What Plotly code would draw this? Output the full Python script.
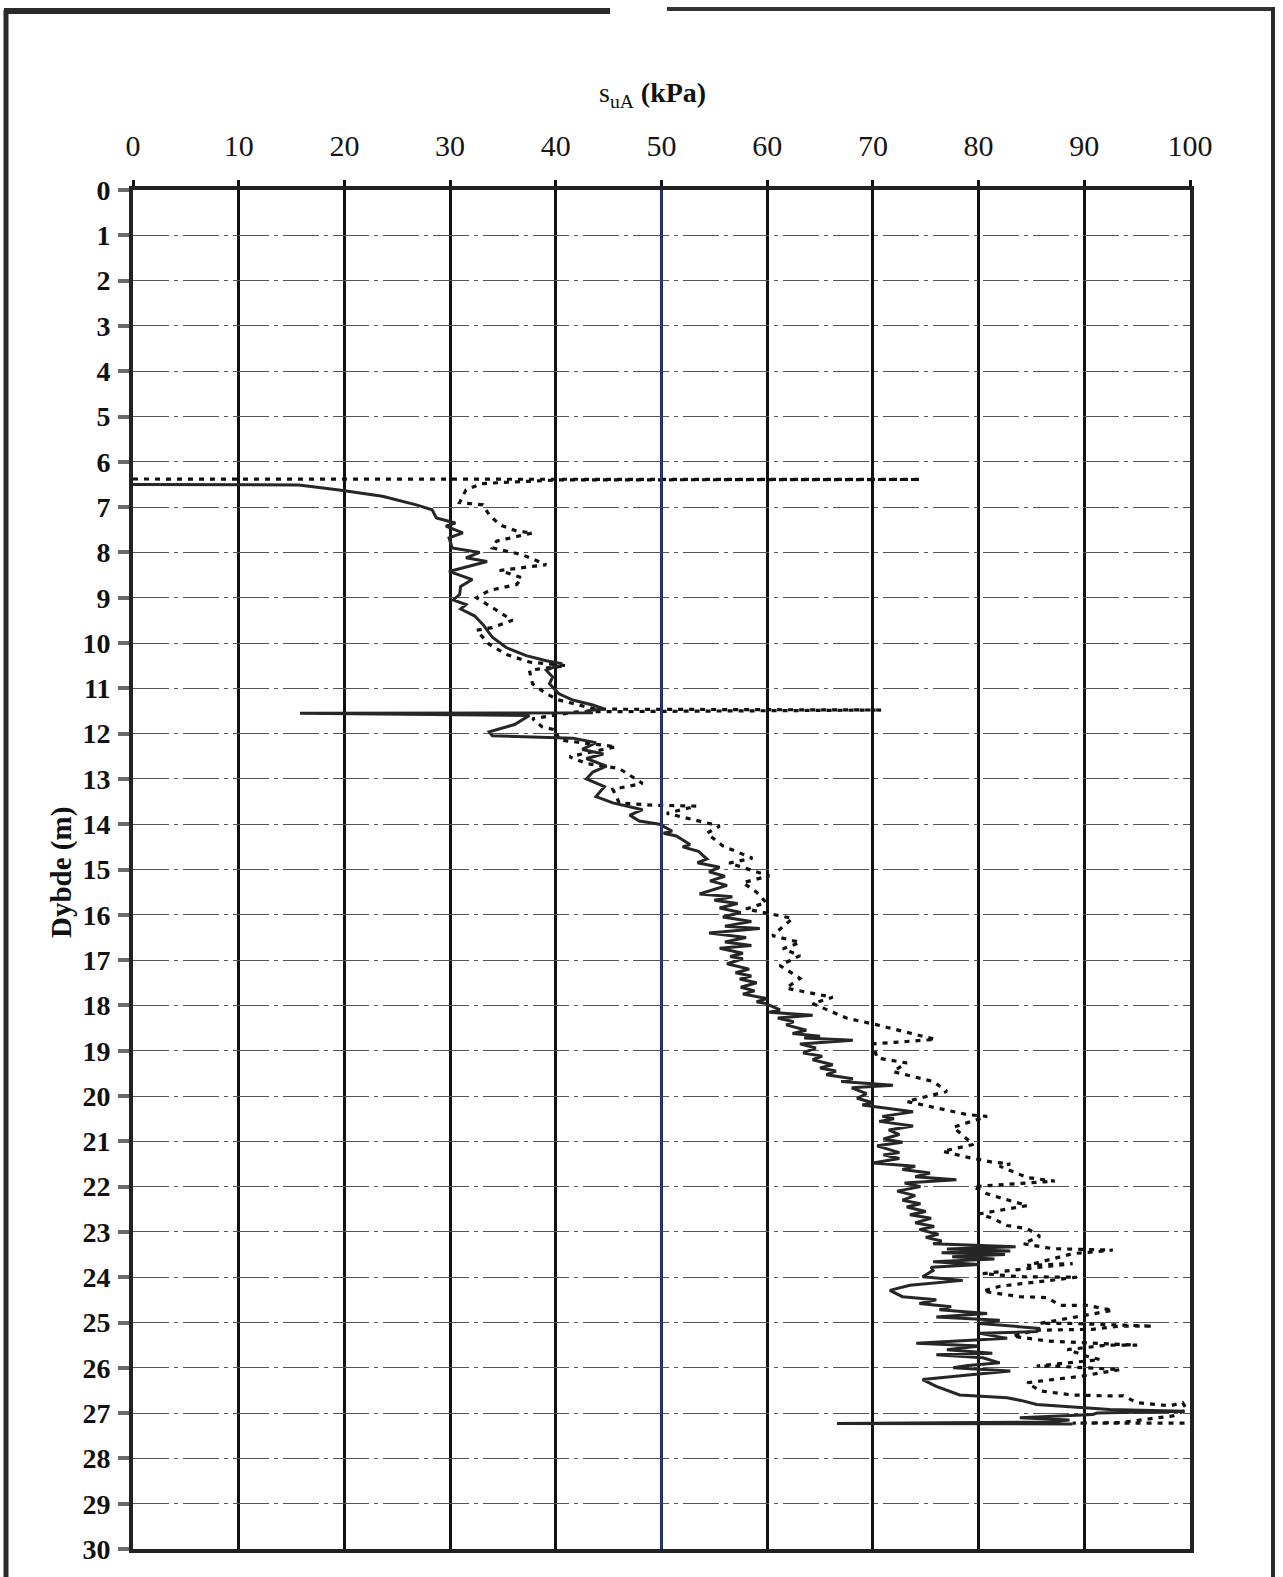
import plotly.graph_objects as go

# Undrained shear strength profile s_uA (kPa) versus depth (m)

# Solid profile: depth (m) and s_uA (kPa)
solid_depth = [
    6.50, 6.50, 6.51, 6.62, 6.76, 6.95, 7.06, 7.24, 7.35, 7.42, 7.57, 7.68, 7.90, 8.00,
    8.12, 8.20, 8.42, 8.60, 8.75, 8.93, 9.05, 9.15, 9.25, 9.40, 9.59, 9.75, 9.87, 10.10,
    10.28, 10.39, 10.46, 10.60, 10.75, 10.90, 11.12, 11.26, 11.37, 11.45, 11.50, 11.54,
    11.55, 11.60, 11.67, 11.80, 11.96, 12.05, 12.10, 12.20, 12.35, 12.45, 12.55, 12.72,
    12.85, 13.00, 13.17, 13.39, 13.53, 13.68, 13.80, 13.93, 14.00, 14.15, 14.20, 14.26,
    14.45, 14.50, 14.60, 14.77, 14.85, 14.95, 15.05, 15.15, 15.25, 15.35, 15.54, 15.60,
    15.68, 15.75, 15.85, 15.95, 16.05, 16.15, 16.25, 16.30, 16.40, 16.50, 16.60, 16.68,
    16.74, 16.85, 16.92, 16.97, 17.08, 17.20, 17.28, 17.35, 17.42, 17.50, 17.60, 17.68,
    17.75, 17.85, 17.92, 17.96, 18.10, 18.15, 18.22, 18.28, 18.36, 18.43, 18.55, 18.62,
    18.68, 18.72, 18.77, 18.85, 18.94, 19.05, 19.12, 19.20, 19.31, 19.38, 19.45, 19.53,
    19.62, 19.68, 19.76, 19.82, 19.95, 20.05, 20.15, 20.20, 20.35, 20.45, 20.50, 20.56,
    20.66, 20.75, 20.85, 20.95, 21.02, 21.10, 21.25, 21.30, 21.38, 21.48, 21.55, 21.62,
    21.70, 21.78, 21.85, 21.92, 22.00, 22.10, 22.20, 22.30, 22.38, 22.45, 22.55, 22.62,
    22.70, 22.80, 22.88, 22.95, 23.05, 23.12, 23.20, 23.26, 23.33, 23.38, 23.42, 23.46,
    23.50, 23.55, 23.60, 23.66, 23.72, 23.78, 23.85, 23.99, 24.07, 24.18, 24.29, 24.43,
    24.50, 24.58, 24.65, 24.72, 24.80, 24.88, 24.95, 25.02, 25.13, 25.20, 25.24, 25.35,
    25.46, 25.52, 25.60, 25.68, 25.71, 25.78, 25.89, 25.95, 26.00, 26.07, 26.15, 26.26,
    26.41, 26.50, 26.60, 26.66, 26.72, 26.81, 26.86, 26.92, 26.96, 27.00, 27.03, 27.10,
    27.15, 27.20, 27.23, 27.24,
]
solid_su = [
    0.0, 10.0, 15.7, 19.5, 23.6, 26.8, 28.3, 28.7, 30.5, 29.6, 31.2, 29.9, 30.2, 32.8,
    31.5, 33.5, 29.9, 32.1, 31.0, 30.9, 30.3, 31.5, 31.0, 32.3, 33.1, 33.6, 34.0, 35.3,
    37.2, 39.1, 40.6, 39.1, 39.7, 39.4, 40.3, 41.6, 43.5, 44.5, 42.9, 43.5,
    15.8, 37.5, 37.0, 36.1, 33.7, 34.0, 41.6, 43.8, 42.5, 44.5, 42.9, 44.8,
    43.5, 42.9, 44.6, 43.8, 45.4, 48.2, 47.0, 47.9, 49.8, 51.0, 50.2, 51.4,
    52.7, 52.0, 53.5, 54.3, 53.4, 55.5, 54.5, 56.0, 54.6, 56.2, 53.6, 56.7,
    55.0, 57.2, 55.5, 57.5, 55.8, 58.5, 56.0, 59.3, 54.5, 58.0, 56.0, 58.5,
    55.5, 57.7, 56.5, 57.7, 56.2, 58.3, 57.0, 58.5, 57.4, 59.0, 57.5, 58.8,
    57.7, 60.0, 59.0, 59.9, 61.2, 60.2, 64.3, 61.0, 62.5, 61.8, 63.7, 62.4,
    65.0, 63.5, 68.1, 63.1, 64.6, 63.4, 65.2, 64.3, 66.2, 65.0, 66.5, 65.6,
    68.1, 67.0, 71.9, 68.0, 69.4, 68.5, 70.0, 69.0, 73.8, 70.9, 72.0, 70.6,
    73.8, 71.5, 72.5, 71.0, 72.8, 70.4, 72.5, 71.0, 72.5, 70.0, 74.0, 72.8,
    75.4, 74.0, 77.9, 73.0, 74.5, 72.3, 74.0, 72.8, 74.5, 73.2, 75.0, 73.5,
    75.5, 74.0, 75.8, 74.4, 76.2, 75.0, 76.5, 75.7, 83.5, 77.0, 83.0, 76.5,
    82.5, 77.5, 81.5, 75.7, 80.1, 75.5, 75.7, 74.7, 78.5, 73.5, 71.6, 72.8,
    76.0, 74.4, 77.4, 76.3, 80.8, 76.0, 82.0, 80.1, 85.8, 85.5, 80.1, 82.7,
    74.1, 80.1, 77.0, 81.3, 76.0, 80.4, 82.0, 79.0, 77.6, 83.0, 79.5, 74.7,
    76.0, 77.0, 78.2, 82.7, 84.0, 85.5, 88.9, 92.4, 99.5, 91.2, 90.8, 83.9,
    88.6, 86.3, 66.6, 88.9,
]

# Dotted profile: depth (m) and s_uA (kPa)
dotted_depth = [
    6.38, 6.39, 6.40, 6.48, 6.62, 6.90, 6.95, 7.17, 7.39, 7.53, 7.57, 7.75, 7.90, 8.05,
    8.27, 8.40, 8.56, 8.71, 8.84, 9.00, 9.28, 9.50, 9.66, 9.72, 10.03, 10.25, 10.42,
    10.50, 10.60, 10.90, 11.12, 11.26, 11.37, 11.46, 11.48, 11.52, 11.67, 11.85, 11.92,
    12.14, 12.29, 12.51, 12.66, 12.77, 13.10, 13.23, 13.53, 13.58, 13.60, 13.76, 14.04,
    14.20, 14.48, 14.75, 14.86, 15.14, 15.29, 15.50, 15.73, 15.87, 16.08, 16.46, 16.61,
    16.75, 16.90, 17.12, 17.40, 17.62, 17.82, 17.96, 18.28, 18.43, 18.75, 18.85, 19.16,
    19.27, 19.46, 19.68, 19.90, 20.12, 20.41, 20.45, 20.69, 21.07, 21.22, 21.35, 21.46,
    21.50, 21.55, 21.80, 21.88, 22.00, 22.16, 22.30, 22.42, 22.60, 22.70, 22.86, 22.93,
    23.10, 23.26, 23.37, 23.40, 23.48, 23.74, 23.70, 23.92, 23.99, 24.00, 24.20, 24.31,
    24.43, 24.45, 24.62, 24.62, 24.73, 25.02, 25.02, 25.08, 25.08, 25.15, 25.17, 25.30,
    25.41, 25.50, 25.50, 25.60, 25.74, 25.82, 25.96, 25.96, 26.04, 26.19, 26.26, 26.33,
    26.51, 26.60, 26.62, 26.62, 26.77, 26.84, 26.77, 26.92, 27.06, 27.21, 27.22, 27.22,
]
dotted_su = [
    0.0, 74.5, 40.0, 33.0, 31.5, 30.9, 33.1, 33.7, 34.7, 36.3, 37.8, 34.4, 34.0, 36.8,
    39.1, 34.7, 36.8, 36.3, 33.7, 32.5, 34.4, 35.9, 34.0, 32.5, 33.7, 35.3, 37.5,
    41.0, 37.5, 37.8, 39.1, 40.3, 42.2, 43.8, 70.8, 42.0, 37.8, 38.7, 40.0,
    40.3, 45.7, 41.3, 42.9, 46.0, 48.2, 45.4, 46.0, 49.1, 53.3, 50.5, 55.5,
    54.3, 55.8, 58.6, 56.4, 60.2, 57.7, 59.0, 59.9, 58.0, 62.4, 60.5, 63.1,
    61.5, 63.1, 61.2, 63.1, 61.8, 66.2, 64.3, 67.5, 70.4, 75.9, 70.0, 70.4,
    73.2, 71.9, 75.7, 77.0, 73.2, 78.9, 80.8, 77.6, 79.5, 76.6, 78.9, 81.3,
    83.0, 82.0, 84.6, 87.2, 79.5, 80.8, 83.0, 84.6, 80.1, 81.3, 82.7, 84.6,
    85.8, 84.2, 87.0, 92.7, 88.9, 84.6, 88.9, 80.4, 83.9, 89.3, 82.0, 80.4,
    83.9, 86.5, 87.7, 90.2, 92.7, 85.8, 88.6, 96.5, 93.4, 90.8, 85.5, 83.2,
    86.5, 95.0, 92.1, 88.4, 90.2, 91.5, 85.5, 87.0, 93.4, 89.6, 87.0, 84.6,
    85.8, 88.9, 92.1, 93.7, 95.0, 98.1, 99.3, 99.7, 98.4, 93.4, 88.9, 99.7,
]

x_ticks = [0, 10, 20, 30, 40, 50, 60, 70, 80, 90, 100]
y_ticks = list(range(0, 31))

W, H = 1283, 1577
L, R, T, B = 133, 1190, 190, 1557  # plot area edges in pixels


def px(xp):
    return (xp - L) / (R - L)


def py(yp):
    return (B - yp) / (B - T)


SERIF = "Liberation Serif"

fig = go.Figure()

fig.add_trace(go.Scatter(
    x=dotted_su, y=dotted_depth, mode="lines",
    line=dict(color="#111111", width=3.2, dash="5px,6px"),
    hoverinfo="skip", showlegend=False,
))
fig.add_trace(go.Scatter(
    x=solid_su, y=solid_depth, mode="lines",
    line=dict(color="#262626", width=3.0),
    hoverinfo="skip", showlegend=False,
))

shapes = [
    # blue vertical grid line at 50 kPa
    dict(type="line", xref="x", yref="paper", x0=50, x1=50, y0=0, y1=1,
         line=dict(color="#1f3f9a", width=2.2), layer="above"),
    # page frame
    dict(type="line", xref="paper", yref="paper", x0=px(6), x1=px(6), y0=py(9), y1=py(1590),
         line=dict(color="#2a2a2a", width=5)),
    dict(type="line", xref="paper", yref="paper", x0=px(4), x1=px(610), y0=py(10), y1=py(10),
         line=dict(color="#2a2a2a", width=6)),
    dict(type="line", xref="paper", yref="paper", x0=px(667), x1=px(1275), y0=py(8), y1=py(8),
         line=dict(color="#333333", width=4)),
    dict(type="line", xref="paper", yref="paper", x0=px(1273), x1=px(1273), y0=py(7), y1=py(1590),
         line=dict(color="#2a2a2a", width=4)),
]

annotations = [
    dict(text="s<sub>uA</sub> <b>(kPa)</b>", xref="paper", yref="paper",
         x=px(652), y=py(94), showarrow=False, xanchor="center", yanchor="middle",
         font=dict(family=SERIF, size=28, color="#111")),
    dict(text="<b>Dybde (m)</b>", xref="paper", yref="paper",
         x=px(62), y=py(877), showarrow=False, xanchor="center", yanchor="middle",
         textangle=-90, font=dict(family=SERIF, size=29, color="#111")),
]

fig.update_layout(
    width=W, height=H,
    margin=dict(l=L, r=W - R, t=T, b=H - B, pad=0),
    paper_bgcolor="white", plot_bgcolor="white",
    shapes=shapes, annotations=annotations,
    showlegend=False,
)

fig.update_xaxes(
    side="top", range=[0, 100], tickvals=x_ticks, ticktext=[str(v) for v in x_ticks],
    showgrid=True, gridcolor="#111111", gridwidth=2.5,
    showline=True, linecolor="#222222", linewidth=4, mirror=True,
    ticks="outside", ticklen=6, tickwidth=3, tickcolor="#111111",
    ticklabelstandoff=12,
    tickfont=dict(family=SERIF, size=30, color="#151515"),
    zeroline=False,
)
fig.update_yaxes(
    range=[30, 0], tickvals=y_ticks, ticktext=[str(v) for v in y_ticks],
    showgrid=True, gridcolor="#555555", gridwidth=1.4, griddash="36px,5px,4px,5px",
    showline=True, linecolor="#222222", linewidth=4, mirror=True,
    ticks="outside", ticklen=11, tickwidth=4, tickcolor="#6a6a6a",
    ticklabelstandoff=2,
    tickfont=dict(family=SERIF, size=28, color="#111111", weight="bold"),
    zeroline=False,
)

fig.write_html("out.html")
